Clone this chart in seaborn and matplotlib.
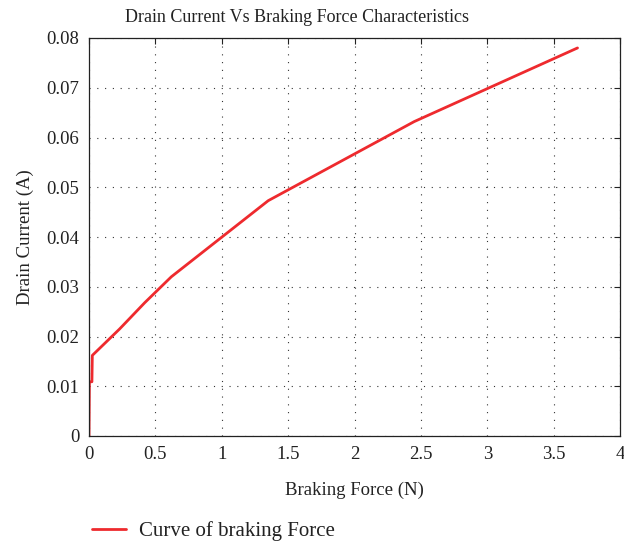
import matplotlib
matplotlib.use("Agg")
import matplotlib.pyplot as plt
import seaborn as sns
import pandas as pd

force = [0.0, 0.003, 0.022, 0.025, 0.23, 0.42, 0.62, 1.35, 2.45, 3.68]
current = [0.0, 0.0109, 0.0109, 0.0162, 0.0215, 0.0268, 0.0320, 0.0473, 0.0632, 0.0780]
xticks = [0, 0.5, 1, 1.5, 2, 2.5, 3, 3.5, 4]
xticklabels = ["0", "0.5", "1", "1.5", "2", "2.5", "3", "3.5", "4"]
yticks = [0, 0.01, 0.02, 0.03, 0.04, 0.05, 0.06, 0.07, 0.08]
yticklabels = ["0", "0.01", "0.02", "0.03", "0.04", "0.05", "0.06", "0.07", "0.08"]

sns.set_style("white")
plt.rcParams['font.family'] = ['Liberation Serif', 'DejaVu Serif']

df = pd.DataFrame({"force": force, "current": current})

fig = plt.figure(figsize=(6.24, 5.43), dpi=100)
ax = fig.add_axes([89/624, 1-436/543, (620-89)/624, (436-38)/543])
sns.lineplot(data=df, x="force", y="current", ax=ax, color="#ee2a2e", lw=2,
             sort=False, estimator=None, label="Curve of braking Force")
ax.set_xlim(0, 4)
ax.set_ylim(0, 0.08)
ax.set_xticks(xticks)
ax.set_xticklabels(xticklabels)
ax.set_yticks(yticks)
ax.set_yticklabels(yticklabels)
ax.tick_params(direction="in", top=True, right=True, length=4, width=0.8,
               labelsize=13.5, colors="#222222", pad=7)
ax.grid(True, linestyle=(0, (1, 6)), color="#333333", linewidth=0.8)
for s in ax.spines.values():
    s.set_color("#222222")
    s.set_linewidth(0.9)
ax.set_xlabel("Braking Force (N)", fontsize=13.5, color="#222222", labelpad=14)
ax.set_ylabel("Drain Current (A)", fontsize=13.5, color="#222222", labelpad=9)
fig.text(297/624, 1-18/543, "Drain Current Vs Braking Force Characteristics",
         fontsize=13, color="#222222", ha="center", va="center")
ax.legend(loc="center left", bbox_to_anchor=(-0.03, -0.24), frameon=False,
          fontsize=15, handlelength=1.65, handletextpad=0.62, labelcolor="#222222")
fig.savefig("out.png", dpi=100)
